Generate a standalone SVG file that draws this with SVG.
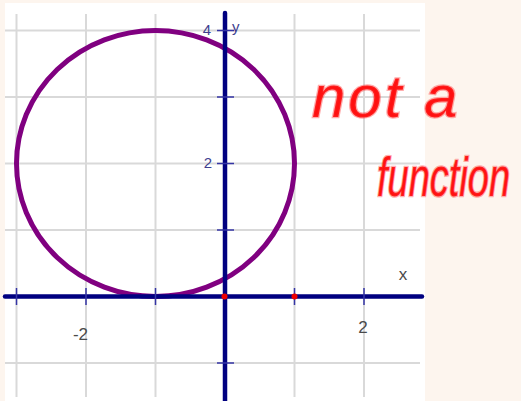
<svg xmlns="http://www.w3.org/2000/svg" width="521" height="401" viewBox="0 0 521 401">
<style>
.grid{stroke:#d9d9d9;stroke-width:2;fill:none}
.tick{stroke:#3535a5;stroke-width:1.5}
.axis{stroke:#000080;stroke-width:4.5;stroke-linecap:round;fill:none}
.lbl{font-family:"Liberation Sans",Arial,sans-serif;font-size:17px;fill:#4a4a4a}
.ylbl{font-family:"Liberation Sans",Arial,sans-serif;font-size:15px;fill:#3f3f8f}
.hand{font-family:"Liberation Sans",Arial,sans-serif;font-size:60px;fill:#ff1010;stroke:#ff3030;stroke-opacity:0.4;stroke-width:2.5;font-style:italic}
</style>
<rect width="521" height="401" fill="#fdf5ee"/>
<rect x="5" y="3" width="420" height="398" fill="#ffffff"/>
<g id="grid">
<path class="grid" d="M16.5 14V397M86 14V397M155.5 14V397M294.5 14V397M364 14V397"/>
<path class="grid" d="M5 30.5H420M5 97H420M5 163.5H420M5 230H420M5 363H420"/>
</g>
<g id="curve">
<ellipse cx="155.5" cy="163.5" rx="139" ry="133" fill="none" stroke="#800080" stroke-width="5"/>
</g>
<g id="axes">
<path class="axis" d="M5 296.5H422"/>
<path class="axis" d="M225 13V401"/>
<path class="tick" d="M16.5 288V305M86 288V305M155.5 288V305M294.5 288V305M364 288V305"/>
<path class="tick" d="M217 30.5H234M217 97H234M217 163.5H234M217 230H234M217 363H234"/>
<circle cx="224.5" cy="296.5" r="3" fill="#ee0000"/>
<circle cx="294.5" cy="296.5" r="3" fill="#ee0000"/>
</g>
<g id="labels">
<text class="ylbl" x="211" y="35" text-anchor="end">4</text>
<text class="ylbl" x="232" y="32" fill="#555a70">y</text>
<text class="ylbl" x="212" y="168" text-anchor="end">2</text>
<text class="lbl" x="403" y="280" text-anchor="middle">x</text>
<text class="lbl" x="80.5" y="340" text-anchor="middle">-2</text>
<text class="lbl" x="363" y="333" text-anchor="middle">2</text>
</g>
<g id="note">
<text class="hand" x="312" y="117" letter-spacing="3">not a</text>
<text class="hand" transform="translate(377 196) scale(1 1.45)" x="0" y="0" style="font-size:38px;stroke-width:1.8px">function</text>
</g>
</svg>
